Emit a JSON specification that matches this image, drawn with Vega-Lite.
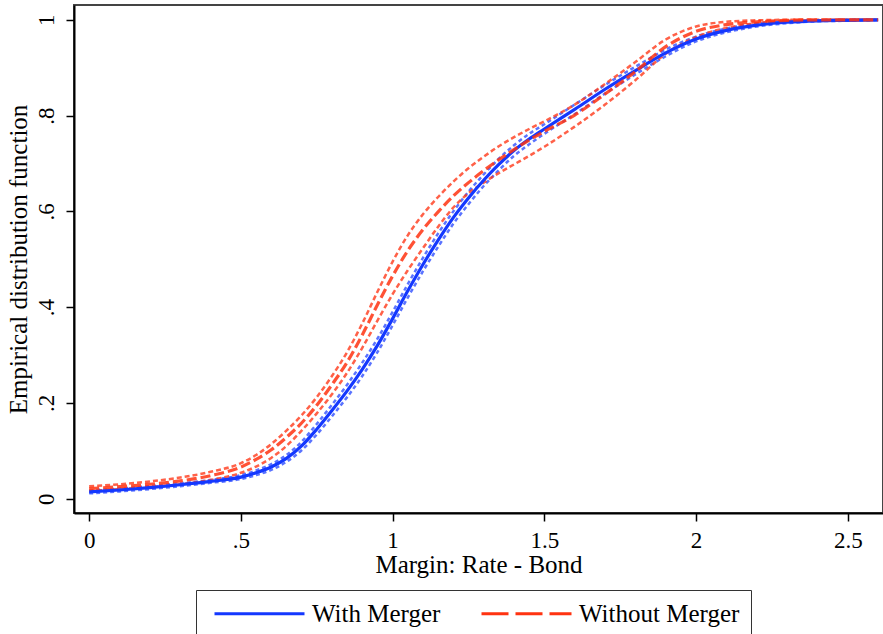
{
  "$schema": "https://vega.github.io/schema/vega-lite/v6.json",
  "width": 809,
  "height": 508,
  "autosize": {"type": "none"},
  "padding": {"left": 74, "top": 5, "right": 0, "bottom": 121},
  "background": "white",
  "config": {
    "font": "Liberation Serif",
    "view": {"stroke": "#444", "strokeWidth": 2},
    "axis": {
      "grid": false,
      "tickSize": 8,
      "tickWidth": 1.5,
      "tickColor": "#000",
      "domainColor": "#000",
      "domainWidth": 2,
      "labelFont": "Liberation Serif",
      "labelFontSize": 23,
      "labelColor": "#000",
      "labelFlush": false,
      "labelOverlap": false,
      "titleFont": "Liberation Serif",
      "titleFontSize": 25,
      "titleFontWeight": "normal",
      "titleColor": "#000"
    },
    "legend": {
      "orient": "none",
      "legendX": 122,
      "legendY": 585,
      "direction": "horizontal",
      "symbolType": "M-1,0H17",
      "symbolSize": 100,
      "symbolStrokeWidth": 3,
      "labelFont": "Liberation Serif",
      "labelFontSize": 25,
      "labelColor": "#000",
      "labelOffset": 80,
      "labelLimit": 0,
      "columnPadding": 33,
      "padding": 11,
      "strokeColor": "#333",
      "fillColor": "white"
    }
  },
  "data": {
    "values": [
      {"m": 0, "With Merger": 0.014, "wlo": 0.011, "whi": 0.017, "Without Merger": 0.021, "olo": 0.016, "ohi": 0.026},
      {"m": 0.1, "With Merger": 0.018, "wlo": 0.015, "whi": 0.021, "Without Merger": 0.025, "olo": 0.020, "ohi": 0.030},
      {"m": 0.2, "With Merger": 0.023, "wlo": 0.020, "whi": 0.026, "Without Merger": 0.030, "olo": 0.024, "ohi": 0.036},
      {"m": 0.3, "With Merger": 0.029, "wlo": 0.026, "whi": 0.032, "Without Merger": 0.037, "olo": 0.030, "ohi": 0.044},
      {"m": 0.4, "With Merger": 0.036, "wlo": 0.033, "whi": 0.039, "Without Merger": 0.048, "olo": 0.039, "ohi": 0.056},
      {"m": 0.5, "With Merger": 0.045, "wlo": 0.041, "whi": 0.049, "Without Merger": 0.066, "olo": 0.054, "ohi": 0.074},
      {"m": 0.55, "With Merger": 0.054, "wlo": 0.049, "whi": 0.059, "Without Merger": 0.082, "olo": 0.067, "ohi": 0.091},
      {"m": 0.6, "With Merger": 0.066, "wlo": 0.060, "whi": 0.072, "Without Merger": 0.102, "olo": 0.085, "ohi": 0.114},
      {"m": 0.65, "With Merger": 0.084, "wlo": 0.077, "whi": 0.091, "Without Merger": 0.128, "olo": 0.110, "ohi": 0.142},
      {"m": 0.7, "With Merger": 0.110, "wlo": 0.101, "whi": 0.119, "Without Merger": 0.158, "olo": 0.142, "ohi": 0.174},
      {"m": 0.75, "With Merger": 0.145, "wlo": 0.134, "whi": 0.156, "Without Merger": 0.195, "olo": 0.178, "ohi": 0.212},
      {"m": 0.8, "With Merger": 0.184, "wlo": 0.172, "whi": 0.196, "Without Merger": 0.238, "olo": 0.218, "ohi": 0.256},
      {"m": 0.85, "With Merger": 0.225, "wlo": 0.212, "whi": 0.238, "Without Merger": 0.285, "olo": 0.263, "ohi": 0.306},
      {"m": 0.9, "With Merger": 0.270, "wlo": 0.256, "whi": 0.284, "Without Merger": 0.342, "olo": 0.315, "ohi": 0.366},
      {"m": 0.95, "With Merger": 0.320, "wlo": 0.306, "whi": 0.334, "Without Merger": 0.405, "olo": 0.372, "ohi": 0.432},
      {"m": 1.0, "With Merger": 0.376, "wlo": 0.362, "whi": 0.390, "Without Merger": 0.465, "olo": 0.427, "ohi": 0.495},
      {"m": 1.05, "With Merger": 0.434, "wlo": 0.420, "whi": 0.448, "Without Merger": 0.518, "olo": 0.477, "ohi": 0.550},
      {"m": 1.1, "With Merger": 0.489, "wlo": 0.475, "whi": 0.503, "Without Merger": 0.562, "olo": 0.523, "ohi": 0.594},
      {"m": 1.15, "With Merger": 0.540, "wlo": 0.526, "whi": 0.554, "Without Merger": 0.599, "olo": 0.568, "ohi": 0.630},
      {"m": 1.2, "With Merger": 0.587, "wlo": 0.574, "whi": 0.600, "Without Merger": 0.632, "olo": 0.608, "ohi": 0.662},
      {"m": 1.25, "With Merger": 0.628, "wlo": 0.615, "whi": 0.641, "Without Merger": 0.660, "olo": 0.638, "ohi": 0.690},
      {"m": 1.3, "With Merger": 0.665, "wlo": 0.653, "whi": 0.677, "Without Merger": 0.685, "olo": 0.660, "ohi": 0.714},
      {"m": 1.35, "With Merger": 0.698, "wlo": 0.686, "whi": 0.710, "Without Merger": 0.708, "olo": 0.680, "ohi": 0.736},
      {"m": 1.4, "With Merger": 0.727, "wlo": 0.716, "whi": 0.738, "Without Merger": 0.729, "olo": 0.698, "ohi": 0.755},
      {"m": 1.45, "With Merger": 0.751, "wlo": 0.740, "whi": 0.762, "Without Merger": 0.749, "olo": 0.716, "ohi": 0.772},
      {"m": 1.5, "With Merger": 0.772, "wlo": 0.762, "whi": 0.782, "Without Merger": 0.767, "olo": 0.735, "ohi": 0.788},
      {"m": 1.6, "With Merger": 0.813, "wlo": 0.803, "whi": 0.823, "Without Merger": 0.801, "olo": 0.777, "ohi": 0.823},
      {"m": 1.7, "With Merger": 0.855, "wlo": 0.846, "whi": 0.864, "Without Merger": 0.845, "olo": 0.823, "ohi": 0.866},
      {"m": 1.8, "With Merger": 0.894, "wlo": 0.886, "whi": 0.902, "Without Merger": 0.892, "olo": 0.874, "ohi": 0.912},
      {"m": 1.9, "With Merger": 0.931, "wlo": 0.924, "whi": 0.938, "Without Merger": 0.944, "olo": 0.929, "ohi": 0.959},
      {"m": 2.0, "With Merger": 0.960, "wlo": 0.955, "whi": 0.965, "Without Merger": 0.976, "olo": 0.964, "ohi": 0.986},
      {"m": 2.1, "With Merger": 0.978, "wlo": 0.974, "whi": 0.982, "Without Merger": 0.990, "olo": 0.983, "ohi": 0.996},
      {"m": 2.2, "With Merger": 0.989, "wlo": 0.986, "whi": 0.992, "Without Merger": 0.996, "olo": 0.993, "ohi": 0.999},
      {"m": 2.3, "With Merger": 0.995, "wlo": 0.993, "whi": 0.997, "Without Merger": 0.999, "olo": 0.998, "ohi": 1.0},
      {"m": 2.4, "With Merger": 0.998, "wlo": 0.997, "whi": 0.999, "Without Merger": 1.0, "olo": 0.999, "ohi": 1.0},
      {"m": 2.5, "With Merger": 0.999, "wlo": 0.998, "whi": 1.0, "Without Merger": 1.0, "olo": 1.0, "ohi": 1.0},
      {"m": 2.6, "With Merger": 1.0, "wlo": 0.999, "whi": 1.0, "Without Merger": 1.0, "olo": 1.0, "ohi": 1.0}
    ]
  },
  "encoding": {
    "x": {
      "field": "m",
      "type": "quantitative",
      "scale": {"domain": [-0.05, 2.616], "nice": false, "zero": false},
      "axis": {
        "title": "Margin: Rate - Bond",
        "values": [0, 0.5, 1, 1.5, 2, 2.5],
        "labelExpr": "datum.value > 0 && datum.value < 1 ? substring(format(datum.value, '.1f'), 1) : format(datum.value, '')",
        "labelPadding": 8,
        "titlePadding": 0
      }
    },
    "y": {
      "type": "quantitative",
      "scale": {"domain": [-0.03, 1.031], "nice": false, "zero": false},
      "axis": {"title": "Empirical distribution function", "values": [0, 0.2, 0.4, 0.6, 0.8, 1],
        "labelExpr": "datum.value > 0 && datum.value < 1 ? substring(format(datum.value, '.1f'), 1) : format(datum.value, '')",
        "labelAngle": 270, "labelAlign": "center", "labelBaseline": "bottom", "labelPadding": 8, "titlePadding": 4}
    }
  },
  "layer": [
    {
      "mark": {"type": "line", "interpolate": "monotone", "strokeWidth": 2.5, "strokeDash": [4, 3], "color": "#1438ff", "opacity": 0.7},
      "encoding": {"y": {"field": "wlo"}}
    },
    {
      "mark": {"type": "line", "interpolate": "monotone", "strokeWidth": 2.5, "strokeDash": [4, 3], "color": "#1438ff", "opacity": 0.7},
      "encoding": {"y": {"field": "whi"}}
    },
    {
      "mark": {"type": "line", "interpolate": "monotone", "strokeWidth": 2.5, "strokeDash": [5, 3], "color": "#ff3a1a", "opacity": 0.8},
      "encoding": {"y": {"field": "olo"}}
    },
    {
      "mark": {"type": "line", "interpolate": "monotone", "strokeWidth": 2.5, "strokeDash": [5, 3], "color": "#ff3a1a", "opacity": 0.8},
      "encoding": {"y": {"field": "ohi"}}
    },
    {
      "transform": [{"fold": ["With Merger"], "as": ["series", "cdf"]}],
      "mark": {"type": "line", "interpolate": "monotone", "strokeWidth": 3.2},
      "encoding": {
        "y": {"field": "cdf"},
        "color": {
          "field": "series",
          "type": "nominal",
          "scale": {"domain": ["With Merger", "Without Merger"], "range": ["#1438ff", "#ff3311"]},
          "legend": {
            "title": null,
            "encode": {
              "symbols": {
                "update": {
                  "strokeDash": {"signal": "datum.value === 'Without Merger' ? [27, 7] : [1, 0]"},
                  "opacity": {"value": 1}
                }
              }
            }
          }
        }
      }
    },
    {
      "transform": [{"fold": ["Without Merger"], "as": ["series", "cdf"]}],
      "mark": {"type": "line", "interpolate": "monotone", "strokeWidth": 3.2, "strokeDash": [10, 4], "opacity": 0.85},
      "encoding": {
        "y": {"field": "cdf"},
        "color": {
          "field": "series",
          "type": "nominal",
          "scale": {"domain": ["With Merger", "Without Merger"], "range": ["#1438ff", "#ff3311"]},
          "legend": {
            "title": null,
            "encode": {
              "symbols": {
                "update": {
                  "strokeDash": {"signal": "datum.value === 'Without Merger' ? [27, 7] : [1, 0]"},
                  "opacity": {"value": 1}
                }
              }
            }
          }
        }
      }
    }
  ]
}
